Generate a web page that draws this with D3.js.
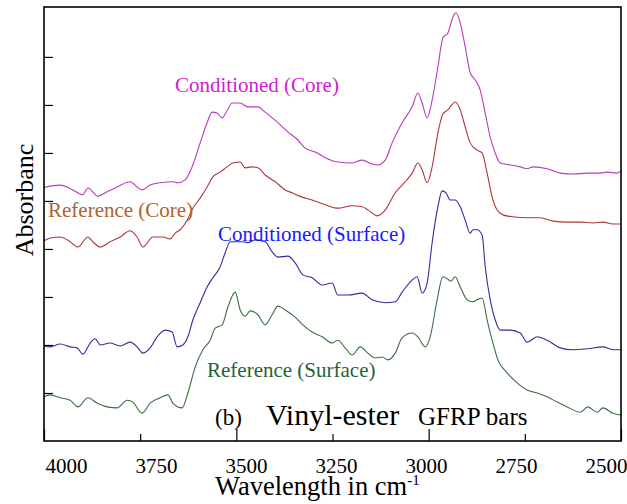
<!DOCTYPE html>
<html>
<head>
<meta charset="utf-8">
<script src="https://cdn.jsdelivr.net/npm/d3@7"></script>
<style>
    body { margin: 0; background: #fff; }
    svg { display: block; }
    text { font-family: "Liberation Serif", "Times New Roman", serif; }
</style>
</head>
<body>
<svg></svg>
<script>
// wavenumbers (cm-1) and absorbance (offset, arbitrary units)
var wnCondCore = [4000,3958,3925,3899,3886,3860,3836,3810,3776,3758,3745,3724,3698,3665,3652,3633,3615,3594,3576,3563,3550,3537,3524,3511,3490,3470,3444,3425,3392,3366,3340,3321,3295,3269,3236,3199,3173,3147,3132,3113,3095,3069,3043,3028,3017,3004,2991,2976,2963,2950,2937,2929,2918,2905,2892,2879,2866,2853,2840,2827,2814,2788,2762,2744,2729,2692,2658,2625,2588,2554,2536,2510,2500];
var absCondCore = [5.28,5.33,5.23,5.13,5.27,5.10,5.19,5.29,5.40,5.29,5.23,5.33,5.38,5.40,5.38,5.44,5.71,6.21,6.63,6.85,6.83,6.73,6.88,7.04,7.04,6.96,6.96,6.85,6.63,6.44,6.27,6.10,6.02,5.90,5.81,5.79,5.85,5.77,5.75,5.85,6.21,6.63,6.96,7.25,7.04,6.73,7.10,7.79,8.40,8.50,8.83,8.92,8.71,8.21,7.67,7.52,7.31,6.83,6.33,6.00,5.79,5.75,5.71,5.67,5.71,5.67,5.58,5.56,5.58,5.58,5.60,5.58,5.63];

var wnRefCore = [4000,3984,3958,3932,3912,3886,3873,3854,3828,3802,3776,3758,3743,3717,3691,3672,3659,3646,3628,3613,3594,3576,3561,3542,3524,3509,3490,3477,3459,3444,3425,3399,3373,3355,3329,3303,3269,3236,3199,3173,3147,3134,3113,3087,3061,3043,3028,3017,3004,2991,2976,2963,2950,2942,2931,2918,2905,2892,2874,2861,2848,2835,2822,2807,2781,2744,2710,2677,2640,2606,2573,2547,2521,2500];
var absRefCore = [4.17,4.23,4.25,4.15,4.04,4.25,4.15,4.04,4.15,4.25,4.38,4.25,4.04,4.25,4.25,4.21,4.33,4.40,4.60,4.85,5.06,5.29,5.50,5.60,5.71,5.79,5.81,5.69,5.71,5.69,5.54,5.40,5.23,5.17,5.08,5.02,4.92,4.85,4.90,4.88,4.75,4.69,4.81,5.17,5.40,5.58,5.79,5.65,5.38,5.71,6.42,6.81,6.90,6.98,7.06,6.90,6.54,6.21,6.06,6.00,5.58,5.08,4.81,4.71,4.67,4.65,4.65,4.58,4.56,4.56,4.54,4.56,4.52,4.52];

var wnCondSurf = [4000,3984,3958,3932,3914,3899,3880,3867,3854,3828,3802,3776,3758,3743,3724,3706,3685,3667,3654,3639,3626,3613,3594,3576,3561,3542,3529,3516,3498,3483,3470,3451,3425,3407,3392,3366,3347,3327,3303,3277,3251,3236,3210,3173,3147,3113,3087,3069,3043,3030,3017,3004,2991,2976,2965,2955,2944,2931,2918,2905,2892,2885,2874,2861,2853,2840,2827,2814,2788,2762,2744,2718,2692,2658,2625,2588,2547,2521,2500];
var absCondSurf = [1.98,1.96,2.02,1.96,1.94,1.81,2.04,2.13,2.00,2.04,1.98,2.06,1.96,1.83,1.94,2.17,2.31,2.27,1.96,2.00,2.17,2.52,2.88,3.21,3.40,3.63,3.92,4.15,4.15,4.15,4.13,4.19,4.15,3.94,3.83,3.85,3.71,3.46,3.40,3.25,3.29,3.04,3.04,3.08,2.94,2.88,2.90,3.10,3.35,3.42,3.08,3.29,4.13,4.88,5.21,5.17,5.02,5.02,4.88,4.60,4.33,4.40,4.40,4.29,3.63,2.94,2.52,2.31,2.31,2.25,2.06,2.17,2.10,1.94,1.90,1.92,1.96,1.90,1.90];

var wnRefSurf = [4000,3984,3958,3932,3912,3886,3862,3836,3810,3784,3769,3745,3724,3698,3678,3665,3641,3626,3607,3587,3568,3555,3537,3522,3503,3490,3477,3464,3444,3425,3407,3392,3373,3347,3327,3303,3277,3251,3236,3217,3199,3178,3158,3139,3121,3106,3087,3069,3043,3028,3009,2996,2978,2963,2952,2942,2931,2918,2900,2887,2874,2861,2848,2835,2820,2796,2770,2744,2718,2692,2666,2640,2606,2586,2562,2547,2521,2500];
var absRefSurf = [0.92,0.96,0.90,0.85,0.71,0.90,0.79,0.71,0.69,0.85,0.81,0.58,0.79,0.90,0.96,0.79,0.69,1.00,1.54,1.90,2.10,2.35,2.42,2.79,3.10,2.73,2.60,2.71,2.63,2.42,2.63,2.81,2.73,2.58,2.42,2.27,2.17,2.04,2.10,1.94,1.79,1.96,1.83,1.73,1.75,1.69,1.83,2.15,2.25,2.17,1.96,2.17,2.94,3.42,3.38,3.33,3.42,3.21,2.94,2.90,2.94,2.98,2.52,2.10,1.69,1.42,1.21,1.06,1.00,0.92,0.81,0.71,0.60,0.71,0.60,0.69,0.58,0.54];

var xTickValues = [4000, 3750, 3500, 3250, 3000, 2750, 2500];
var xMajorTicks = [4000, 3500, 3000, 2500];
var yTickValues = [1, 2, 3, 4, 5, 6, 7, 8];

var seriesNames = ["Conditioned (Core)", "Reference (Core)", "Conditioned (Surface)", "Reference (Surface)"];

var svgWidth = 627, svgHeight = 504;
var plotLeft = 44, plotRight = 621, plotTop = 7, plotBottom = 441;
var serif = "'Liberation Serif', 'Times New Roman', serif";

var svg = d3.select("svg")
    .attr("width", svgWidth)
    .attr("height", svgHeight);

svg.append("rect")
    .attr("width", svgWidth)
    .attr("height", svgHeight)
    .attr("fill", "#fff");

var x = d3.scaleLinear().domain([4000, 2500]).range([plotLeft, plotRight]);
var y = d3.scaleLinear().domain([0, 9.04]).range([plotBottom, plotTop]);
// the tick numbers in the original sit a bit inside the ends of the axis
var xLabelPos = d3.scaleLinear().domain([4000, 2500]).range([66, 606]);

var series = [
    { name: seriesNames[0], wn: wnCondCore, abs: absCondCore, line: "#b83cb8", text: "#d41cd4", lx: 175, ly: 92 },
    { name: seriesNames[1], wn: wnRefCore, abs: absRefCore, line: "#b03636", text: "#b0612c", lx: 48, ly: 217 },
    { name: seriesNames[2], wn: wnCondSurf, abs: absCondSurf, line: "#2e2e9c", text: "#1a1aff", lx: 218, ly: 241 },
    { name: seriesNames[3], wn: wnRefSurf, abs: absRefSurf, line: "#3b6e3b", text: "#1f6437", lx: 207, ly: 377 }
];

var line = d3.line()
    .x(function(d) { return x(d[0]); })
    .y(function(d) { return y(d[1]); })
    .curve(d3.curveMonotoneX);

var g = svg.append("g");

g.selectAll("path.spec")
    .data(series)
    .enter()
    .append("path")
    .attr("class", "spec")
    .attr("d", function(d) { return line(d3.zip(d.wn, d.abs)); })
    .attr("fill", "none")
    .attr("stroke", function(d) { return d.line; })
    .attr("stroke-width", 1.1);

g.selectAll("text.lab")
    .data(series)
    .enter()
    .append("text")
    .attr("class", "lab")
    .attr("x", function(d) { return d.lx; })
    .attr("y", function(d) { return d.ly; })
    .attr("font-size", 21)
    .attr("fill", function(d) { return d.text; })
    .text(function(d) { return d.name; });

// frame
svg.append("rect")
    .attr("x", plotLeft)
    .attr("y", plotTop)
    .attr("width", plotRight - plotLeft)
    .attr("height", plotBottom - plotTop)
    .attr("fill", "none")
    .attr("stroke", "#000")
    .attr("stroke-width", 1.6);

// bottom axis, ticks pointing in
var xAxis = d3.axisBottom(x)
    .tickValues(xTickValues)
    .tickSize(0)
    .tickPadding(0)
    .tickFormat(d3.format("d"));

var xg = svg.append("g")
    .attr("transform", "translate(0," + plotBottom + ")")
    .call(xAxis)
    .attr("font-family", serif);
xg.select(".domain").remove();
xg.selectAll(".tick line")
    .attr("y2", function(d) { return xMajorTicks.indexOf(d) >= 0 ? -12 : -7; })
    .attr("stroke", "#000")
    .attr("stroke-width", 1.2);
xg.selectAll(".tick text")
    .attr("x", function(d) { return xLabelPos(d) - x(d); })
    .attr("y", 32)
    .attr("dy", null)
    .attr("font-size", 21)
    .attr("fill", "#000");

// left axis, ticks only
var yAxis = d3.axisLeft(y)
    .tickValues(yTickValues)
    .tickSize(-9)
    .tickFormat("");
var yg = svg.append("g")
    .attr("transform", "translate(" + plotLeft + ",0)")
    .call(yAxis);
yg.select(".domain").remove();
yg.selectAll(".tick line").attr("stroke", "#000").attr("stroke-width", 1.2);

// axis titles
var xt = svg.append("text")
    .attr("x", 215)
    .attr("y", 495)
    .attr("font-size", 26.5)
    .attr("fill", "#000");
xt.append("tspan").text("Wavelength in cm");
xt.append("tspan").attr("dy", -10).attr("font-size", 15).text("-1");

svg.append("text")
    .attr("transform", "translate(33,200) rotate(-90)")
    .attr("text-anchor", "middle")
    .attr("font-size", 26)
    .attr("fill", "#000")
    .text("Absorbanc");

// panel caption
var cap = svg.append("text")
    .attr("x", 215)
    .attr("y", 425)
    .attr("fill", "#000");
cap.append("tspan").attr("font-size", 23).text("(b)");
cap.append("tspan").attr("x", 266).attr("font-size", 30).text("Vinyl-ester");
cap.append("tspan").attr("x", 418).attr("font-size", 25).text("GFRP bars");
</script>
</body>
</html>
